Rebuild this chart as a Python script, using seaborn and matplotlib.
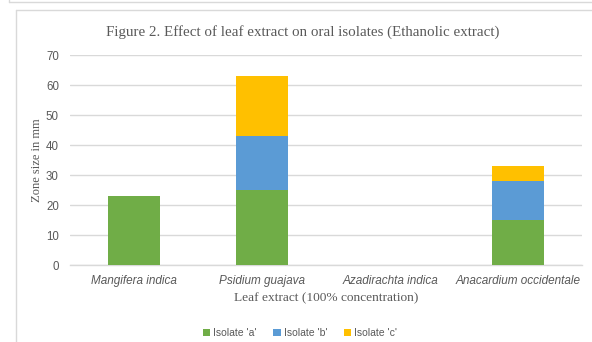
import matplotlib
matplotlib.use("Agg")
import matplotlib.pyplot as plt
from matplotlib.lines import Line2D
from matplotlib.patches import Patch
import numpy as np
import pandas as pd
import seaborn as sns

# Zone of inhibition (mm) for each leaf extract and isolate
extracts = ["Mangifera indica", "Psidium guajava", "Azadirachta indica", "Anacardium occidentale"]
isolate_a = [23, 25, 0, 15]
isolate_b = [0, 18, 0, 13]
isolate_c = [0, 20, 0, 5]
series_names = ["Isolate 'a'", "Isolate 'b'", "Isolate 'c'"]
series_colors = ["#70AD47", "#5B9BD5", "#FFC000"]
y_ticks = [0, 10, 20, 30, 40, 50, 60, 70]

sns.set_theme(style="white")
plt.rcParams["font.family"] = ["Liberation Sans", "DejaVu Sans"]

W, H = 592, 342
fig = plt.figure(figsize=(W / 100, H / 100), dpi=100)
ax = fig.add_axes([70 / W, 1 - 265 / H, 512 / W, 210 / H])

df = pd.DataFrame({"extract": extracts, "a": isolate_a, "b": isolate_b, "c": isolate_c})
df["ab"] = df["a"] + df["b"]
df["abc"] = df["ab"] + df["c"]

# stacked bars: draw cumulative totals from the top layer down
for col, color in zip(["abc", "ab", "a"], series_colors[::-1]):
    sns.barplot(data=df, x="extract", y=col, color=color, width=0.4,
                saturation=1, ax=ax, zorder=3, linewidth=0)

grid_c = "#D9D9D9"
text_c = "#595959"
ax.set_ylim(0, 70)
ax.set_xlim(-0.5, 3.5)
ax.set_yticks(y_ticks)
ax.yaxis.grid(True, color=grid_c, linewidth=1.0, zorder=0)
ax.set_axisbelow(True)
for s in ["top", "right", "left"]:
    ax.spines[s].set_visible(False)
ax.spines["bottom"].set_color(grid_c)
ax.spines["bottom"].set_linewidth(1.0)
ax.tick_params(axis="both", length=0, colors=text_c)
ax.tick_params(axis="y", pad=8, labelsize=8.3)
ax.tick_params(axis="x", pad=7, labelsize=8.5)
for lab in ax.get_xticklabels():
    lab.set_fontstyle("italic")

serif = ["Liberation Serif", "DejaVu Serif"]
ax.set_xlabel("Leaf extract (100% concentration)", family=serif, fontsize=9.6,
              color=text_c, labelpad=4)
ax.set_ylabel("Zone size in mm", family=serif, fontsize=9, color=text_c, labelpad=2)

fig.text(303 / W, 1 - 32 / H, "Figure 2. Effect of leaf extract on oral isolates (Ethanolic extract)",
         family=serif, fontsize=10.8, color=text_c, ha="center", va="center")

handles = [Patch(facecolor=c, edgecolor="none") for c in series_colors]
fig.legend(handles, series_names, loc="center", bbox_to_anchor=(300 / W, 1 - 333 / H),
           ncol=3, frameon=False, fontsize=7.5, handlelength=0.7, handleheight=0.7,
           handletextpad=0.3, columnspacing=1.6, labelcolor=text_c)

# chart frame
frame_c = "#D9D9D9"
def px_line(xs, ys):
    fig.add_artist(Line2D([x / W for x in xs], [1 - y / H for y in ys],
                          color=frame_c, linewidth=1.0, transform=fig.transFigure))
px_line([9, W], [2, 2])
px_line([9, 9], [0, 2])
px_line([16, W], [10, 10])
px_line([16, 16], [10, H])

fig.savefig("out.png", dpi=100, facecolor="white")
